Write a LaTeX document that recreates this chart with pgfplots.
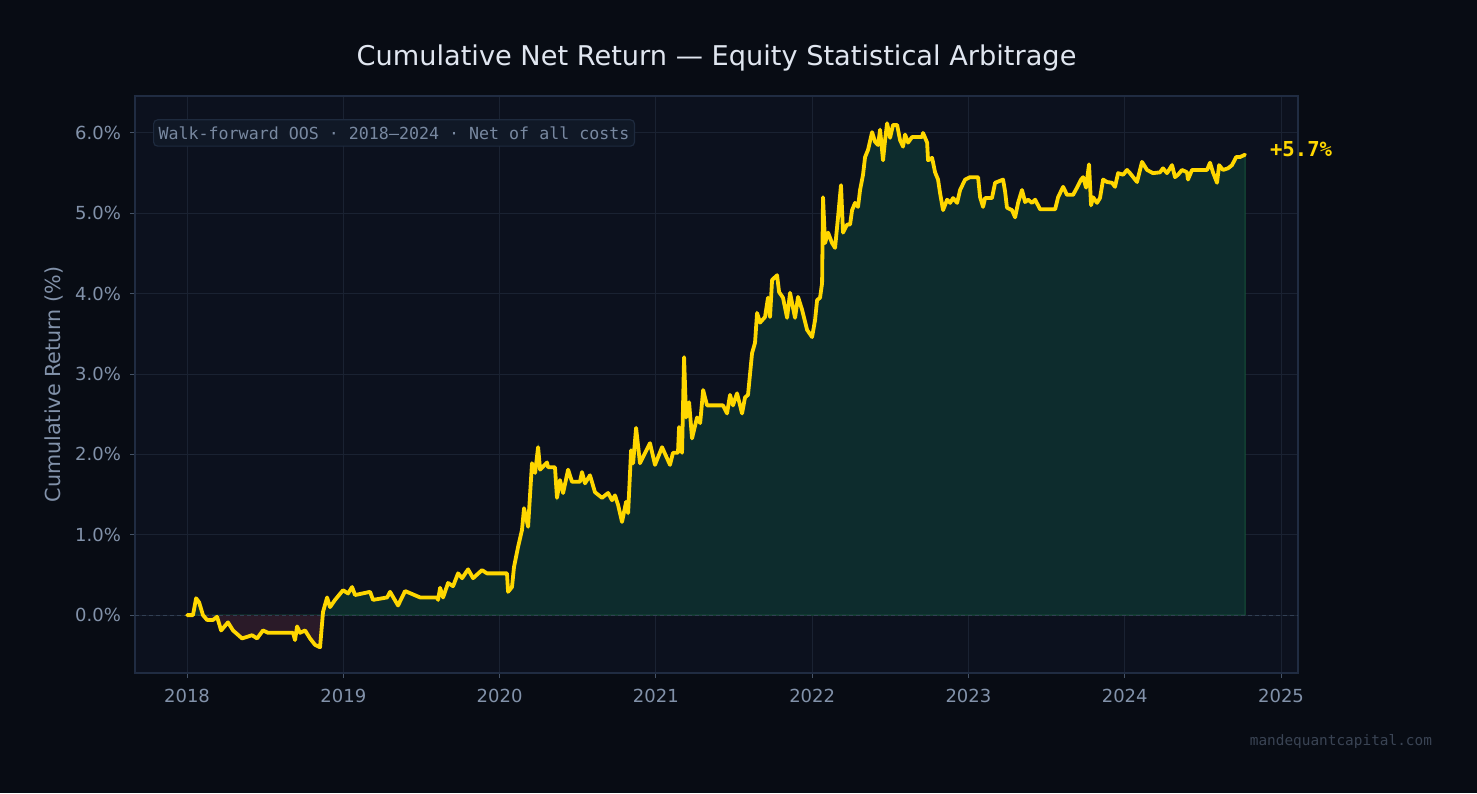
\documentclass[border=0pt]{standalone}
\usepackage{fontspec}
\setmainfont{DejaVu Sans}
\newfontfamily\monofont{DejaVu Sans Mono}
\usepackage{pgfplots}
\usepackage{pgfplotstable}
\pgfplotsset{compat=1.18}

\definecolor{figbg}{RGB}{8,12,20}
\definecolor{axbg}{RGB}{12,17,30}
\definecolor{gridc}{RGB}{26,34,50}
\definecolor{framec}{RGB}{32,44,66}
\definecolor{tickmk}{RGB}{70,84,104}
\definecolor{tickc}{RGB}{130,146,170}
\definecolor{titlec}{RGB}{224,230,240}
\definecolor{gold}{RGB}{255,215,0}
\definecolor{posfill}{RGB}{13,44,45}
\definecolor{negfill}{RGB}{42,26,40}
\definecolor{edgegreen}{RGB}{22,84,58}
\definecolor{zeroc}{RGB}{50,64,84}
\definecolor{boxfill}{RGB}{16,24,38}
\definecolor{boxdraw}{RGB}{30,42,62}
\definecolor{boxtext}{RGB}{120,136,160}
\definecolor{wmc}{RGB}{58,68,84}

\pgfplotstableread{
x y
2018.000 0.00
2018.038 0.00
2018.058 0.21
2018.077 0.16
2018.102 0.00
2018.128 -0.06
2018.166 -0.06
2018.192 -0.02
2018.218 -0.19
2018.262 -0.09
2018.294 -0.19
2018.352 -0.29
2018.384 -0.27
2018.416 -0.25
2018.448 -0.29
2018.486 -0.19
2018.518 -0.22
2018.576 -0.22
2018.678 -0.22
2018.691 -0.31
2018.704 -0.14
2018.723 -0.22
2018.755 -0.19
2018.787 -0.29
2018.819 -0.37
2018.851 -0.40
2018.870 0.04
2018.896 0.22
2018.915 0.10
2018.947 0.19
2018.998 0.31
2019.030 0.27
2019.056 0.35
2019.075 0.25
2019.171 0.29
2019.190 0.19
2019.280 0.22
2019.299 0.29
2019.350 0.12
2019.395 0.30
2019.491 0.22
2019.600 0.22
2019.606 0.19
2019.619 0.34
2019.638 0.22
2019.670 0.40
2019.702 0.36
2019.734 0.52
2019.760 0.46
2019.798 0.57
2019.830 0.46
2019.887 0.56
2019.919 0.52
2020.047 0.52
2020.054 0.29
2020.079 0.35
2020.092 0.60
2020.118 0.85
2020.143 1.06
2020.156 1.33
2020.182 1.10
2020.207 1.89
2020.227 1.77
2020.246 2.09
2020.259 1.81
2020.303 1.90
2020.310 1.84
2020.354 1.84
2020.367 1.46
2020.386 1.68
2020.406 1.52
2020.438 1.81
2020.463 1.66
2020.514 1.66
2020.527 1.78
2020.546 1.64
2020.578 1.74
2020.610 1.53
2020.655 1.46
2020.694 1.52
2020.719 1.43
2020.738 1.49
2020.758 1.37
2020.783 1.16
2020.809 1.41
2020.822 1.27
2020.841 2.05
2020.854 1.89
2020.873 2.33
2020.898 1.89
2020.962 2.14
2020.994 1.87
2021.039 2.09
2021.090 1.87
2021.109 2.02
2021.141 2.02
2021.148 2.34
2021.167 2.02
2021.180 3.21
2021.193 2.46
2021.212 2.65
2021.231 2.20
2021.263 2.46
2021.283 2.39
2021.302 2.80
2021.327 2.61
2021.429 2.61
2021.455 2.51
2021.474 2.74
2021.493 2.61
2021.519 2.76
2021.551 2.51
2021.570 2.71
2021.589 2.74
2021.615 3.26
2021.634 3.39
2021.647 3.76
2021.666 3.64
2021.698 3.71
2021.717 3.95
2021.730 3.71
2021.743 4.17
2021.775 4.23
2021.788 4.02
2021.813 3.95
2021.839 3.70
2021.858 4.01
2021.890 3.70
2021.909 3.96
2021.935 3.80
2021.967 3.55
2021.999 3.46
2022.018 3.67
2022.031 3.92
2022.050 3.95
2022.063 4.13
2022.069 5.20
2022.082 4.63
2022.101 4.76
2022.127 4.63
2022.146 4.57
2022.165 4.95
2022.184 5.35
2022.197 4.76
2022.223 4.86
2022.242 4.86
2022.255 5.04
2022.274 5.13
2022.293 5.08
2022.306 5.29
2022.325 5.48
2022.338 5.70
2022.357 5.79
2022.383 6.01
2022.402 5.89
2022.421 5.85
2022.434 6.04
2022.453 5.66
2022.466 5.91
2022.479 6.12
2022.498 5.94
2022.517 6.10
2022.543 6.10
2022.562 5.91
2022.581 5.83
2022.594 5.98
2022.613 5.88
2022.639 5.95
2022.703 5.95
2022.709 6.00
2022.735 5.88
2022.741 5.66
2022.767 5.69
2022.786 5.51
2022.805 5.42
2022.818 5.25
2022.837 5.04
2022.863 5.17
2022.882 5.13
2022.901 5.19
2022.927 5.13
2022.946 5.29
2022.978 5.42
2023.010 5.45
2023.061 5.45
2023.074 5.20
2023.093 5.08
2023.106 5.19
2023.150 5.19
2023.170 5.38
2023.221 5.42
2023.234 5.27
2023.246 5.07
2023.278 5.04
2023.298 4.95
2023.317 5.13
2023.342 5.29
2023.362 5.14
2023.381 5.17
2023.406 5.13
2023.426 5.17
2023.458 5.05
2023.554 5.05
2023.573 5.20
2023.605 5.33
2023.630 5.23
2023.669 5.23
2023.694 5.32
2023.720 5.42
2023.733 5.45
2023.752 5.32
2023.771 5.61
2023.784 5.10
2023.797 5.20
2023.822 5.13
2023.841 5.19
2023.861 5.42
2023.886 5.39
2023.918 5.38
2023.937 5.33
2023.957 5.50
2023.989 5.48
2024.014 5.54
2024.033 5.50
2024.078 5.39
2024.110 5.64
2024.142 5.54
2024.180 5.50
2024.225 5.51
2024.244 5.56
2024.270 5.50
2024.302 5.60
2024.321 5.45
2024.340 5.48
2024.366 5.54
2024.398 5.51
2024.404 5.42
2024.430 5.54
2024.526 5.54
2024.545 5.63
2024.564 5.51
2024.590 5.38
2024.603 5.60
2024.628 5.54
2024.660 5.56
2024.686 5.60
2024.712 5.70
2024.737 5.70
2024.769 5.73
}\cumret

\begin{document}
\begin{tikzpicture}
\fill[figbg] (0,0) rectangle (738.5pt,396.5pt);
\begin{axis}[
  at={(67.5pt,60pt)}, anchor=south west,
  scale only axis, width=581.5pt, height=288.5pt,
  xmin=2017.667, xmax=2025.108, ymin=-0.72, ymax=6.46,
  clip mode=individual,
  axis background/.style={fill=axbg},
  axis line style={framec, line width=0.7pt},
  xtick={2018,2019,...,2025}, ytick={0,1,...,6},
  grid=major, major grid style={gridc, line width=0.5pt},
  tick pos=left, tick align=outside, major tick length=2.5pt,
  tick style={tickmk, line width=0.5pt},
  ticklabel style={font=\fontsize{9}{10}\selectfont, text=tickc},
  /pgf/number format/assume math mode=true,
  xticklabel={\pgfmathprintnumber[1000 sep={},fixed,precision=0]{\tick}},
  yticklabel={\pgfmathprintnumber[fixed,fixed zerofill,precision=1]{\tick}\%},
  xticklabel style={yshift=-2pt},
  yticklabel style={xshift=-1pt},
]
\begin{scope}
\clip (axis cs:2017.5,0) rectangle (axis cs:2025.5,7);
\addplot[fill=posfill, draw=edgegreen, line width=0.5pt] table[x=x,y=y] {\cumret} \closedcycle;
\end{scope}
\begin{scope}
\clip (axis cs:2017.5,-1) rectangle (axis cs:2025.5,0);
\addplot[fill=negfill, draw=none] table[x=x,y=y] {\cumret} \closedcycle;
\end{scope}
\draw[zeroc, line width=0.6pt, dash pattern=on 2pt off 1.5pt] (axis cs:2017.667,0) -- (axis cs:2025.108,0);
\addplot[gold, line width=1.9pt, line join=round, line cap=round] table[x=x,y=y] {\cumret};
\end{axis}
% title
\node[text=titlec, font=\fontsize{13.6}{15}\selectfont] at (358.25pt,367.5pt) {Cumulative Net Return — Equity Statistical Arbitrage};
% y label
\node[text=tickc, rotate=90, font=\fontsize{10.35}{12}\selectfont] at (27pt,204.25pt) {Cumulative Return (\%)};
% info box
\node[anchor=west, fill=boxfill, draw=boxdraw, line width=0.6pt, rounded corners=2pt, inner xsep=2.5pt, minimum height=13pt, text=boxtext, font=\monofont\fontsize{8.32}{9}\selectfont] at (76.5pt,330pt) {Walk-forward OOS · 2018–2024 · Net of all costs};
% end label
\node[anchor=west, text=gold, font=\monofont\bfseries\fontsize{10.3}{12}\selectfont] at (631.5pt,322pt) {+5.7\%};
% watermark
\node[anchor=east, text=wmc, font=\monofont\fontsize{7.2}{8}\selectfont] at (719.5pt,26pt) {mandequantcapital.com};
\pgfresetboundingbox
\useasboundingbox (0,0) rectangle (738.5pt,396.5pt);
\end{tikzpicture}
\end{document}
